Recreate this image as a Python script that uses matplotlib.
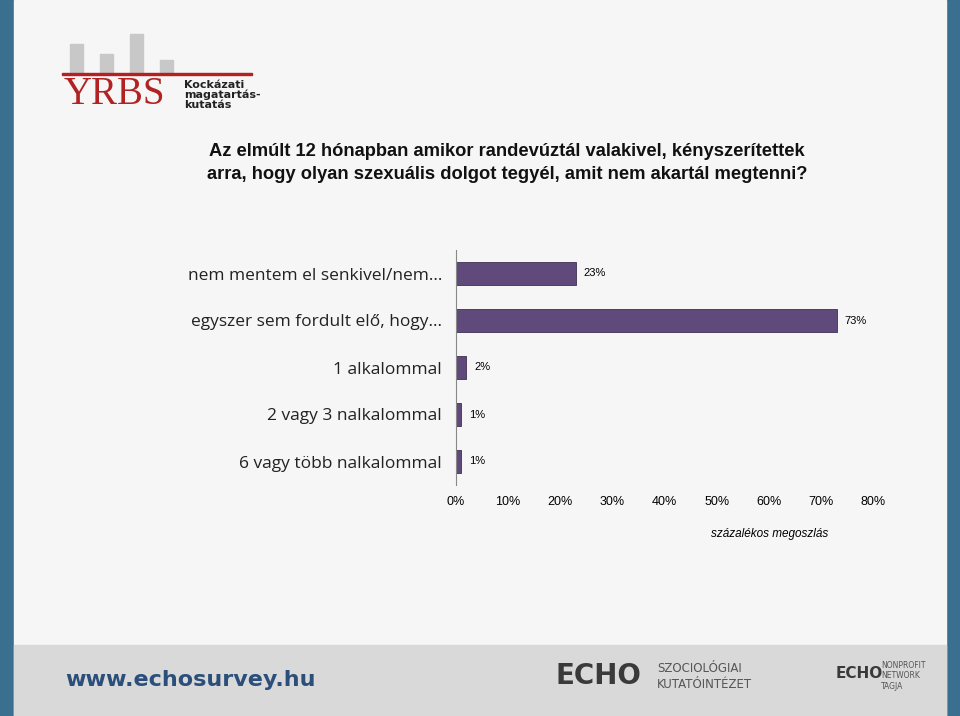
import matplotlib
matplotlib.use("Agg")
import matplotlib.pyplot as plt
from matplotlib.patches import Rectangle

categories = ["nem mentem el senkivel/nem…", "egyszer sem fordult elő, hogy…",
              "1 alkalommal", "2 vagy 3 nalkalommal", "6 vagy több nalkalommal"]
values = [23, 73, 2, 1, 1]
ticks = [0, 10, 20, 30, 40, 50, 60, 70, 80]

W, H = 960, 716
fig = plt.figure(figsize=(W/100, H/100), dpi=100)
fig.patch.set_facecolor("#f4f4f4")
bg = fig.add_axes([0, 0, 1, 1]); bg.set_xlim(0, W); bg.set_ylim(H, 0); bg.axis("off")
bg.add_patch(Rectangle((0, 0), 14, H, color="#3a6f8f"))
bg.add_patch(Rectangle((946, 0), 14, H, color="#3a6f8f"))
bg.add_patch(Rectangle((14, 0), 932, H, color="#f6f6f6"))
bg.add_patch(Rectangle((14, 645), 932, 71, color="#d9d9d9"))
bg.text(65, 680, "www.echosurvey.hu", fontsize=16, color="#2b4f7a", va="center", fontweight="bold")
bg.text(555, 676, "ECHO", fontsize=20, color="#3a3a3a", va="center", fontweight="bold")
bg.text(657, 669, "SZOCIOLÓGIAI", fontsize=8.5, color="#555", va="center")
bg.text(657, 684, "KUTATÓINTÉZET", fontsize=8.5, color="#555", va="center")
bg.text(836, 673, "ECHO", fontsize=11, color="#3a3a3a", va="center", fontweight="bold")
bg.text(881, 676, "NONPROFIT\nNETWORK\nTAGJA", fontsize=5.5, color="#555", va="center")
for x, h in [(70, 28), (100, 18), (130, 38), (160, 12)]:
    bg.add_patch(Rectangle((x, 72-h), 13, h, color="#c8c8c8"))
bg.add_patch(Rectangle((62, 73), 190, 2, color="#b22222"))
bg.text(64, 95, "YRBS", fontsize=28, color="#b22222", va="center", family="Liberation Serif")
bg.text(184, 95, "Kockázati\nmagatartás-\nkutatás", fontsize=8, color="#222", va="center", fontweight="bold", linespacing=1.0)
bg.text(507, 163, "Az elmúlt 12 hónapban amikor randevúztál valakivel, kényszerítettek\narra, hogy olyan szexuális dolgot tegyél, amit nem akartál megtenni?",
        fontsize=13.2, ha="center", va="center", fontweight="bold", color="#111", linespacing=1.45,
        family="Liberation Sans")

ax = fig.add_axes([456/W, 1-485/H, (873-456)/W, (485-250)/H])
ax.set_facecolor("none")
y = list(range(len(categories)))
ax.barh(y, values, height=0.5, color="#604a7b", edgecolor="#3f3152", linewidth=0.6)
for yi, v in zip(y, values):
    ax.text(v + 1.5, yi, f"{v}%", va="center", fontsize=8, family="Liberation Sans")
ax.set_ylim(4.5, -0.5)
ax.set_xlim(0, 80)
ax.set_yticks(y)
ax.set_yticklabels(categories, fontsize=12.5, family="Open Sans", color="#222")
ax.set_xticks(ticks)
ax.set_xticklabels([f"{t}%" for t in ticks], fontsize=9, family="Liberation Sans")
for s in ["top", "right", "bottom"]:
    ax.spines[s].set_visible(False)
ax.spines["left"].set_color("#888")
ax.tick_params(axis="y", length=0, pad=10)
ax.tick_params(axis="x", length=0, pad=8)
bg.text(770, 534, "százalékos megoszlás", fontsize=8.5, style="italic", ha="center", va="center", family="Liberation Sans")
fig.savefig("out.png", dpi=100)
